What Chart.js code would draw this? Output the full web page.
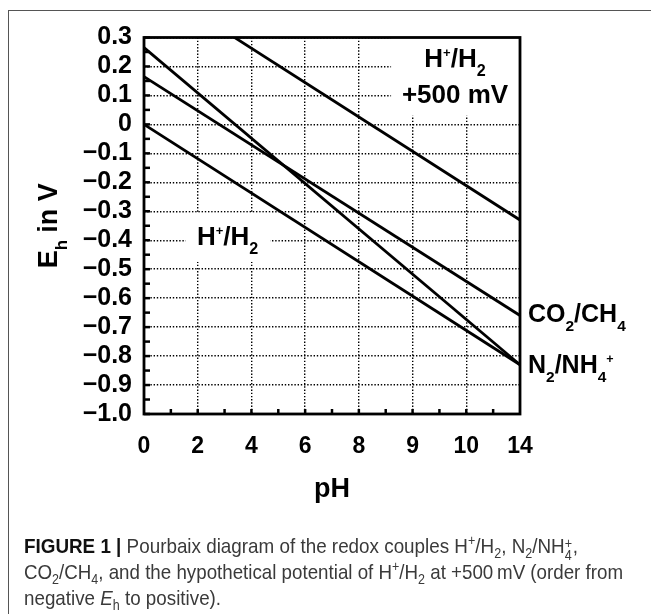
<!DOCTYPE html>
<html>
<head>
<meta charset="utf-8">
<script src="https://cdn.jsdelivr.net/npm/chart.js@4.4.1/dist/chart.umd.min.js"></script>
<style>
html,body{margin:0;padding:0;background:#fff;}
#wrap{position:relative;width:651px;height:614px;overflow:hidden;background:#fff;}
#frame{position:absolute;left:8px;top:10px;width:800px;height:800px;border-left:1px solid #555;border-top:1px solid #555;}
#c{position:absolute;left:0;top:0;}
.cap{position:absolute;left:24px;font-family:"Liberation Sans Narrow","Liberation Sans",Arial,sans-serif;font-size:21px;line-height:26px;color:#3a3a3a;white-space:nowrap;transform-origin:0 0;}
.cap b{color:#111;}
.cap sub,.cap sup{font-size:14px;line-height:0;}
.st{position:relative;display:inline-block;width:9px;height:1px;}
.st .a{position:absolute;left:0;top:-16px;font-size:14px;line-height:14px;}
.st .b{position:absolute;left:0;top:-4px;font-size:14px;line-height:14px;}
</style>
</head>
<body>
<div id="wrap">
  <div id="frame"></div>
  <canvas id="c" width="651" height="614"></canvas>
  <div class="cap" id="l1" style="top:533px"><b>FIGURE 1 |</b> Pourbaix diagram of the redox couples H<sup>+</sup>/H<sub>2</sub>, N<sub>2</sub>/NH<span class="st"><span class="a">+</span><span class="b">4</span></span>,</div>
  <div class="cap" id="l2" style="top:559px">CO<sub>2</sub>/CH<sub>4</sub>, and the hypothetical potential of H<sup>+</sup>/H<sub>2</sub> at +500&#8201;mV (order from</div>
  <div class="cap" id="l3" style="top:585px">negative <i>E</i><sub>h</sub> to positive).</div>
</div>
<script>
// ---- data ----
const pH = [0, 14];
const ehH2 = [0.0, -0.83];        // H+/H2
const ehN2 = [0.265, -0.83];      // N2/NH4+
const ehCO2 = [0.165, -0.66];     // CO2/CH4
const ehH2p500 = [0.5, -0.33];    // H+/H2 +500 mV
const xTickLabels = ['0', '2', '4', '6', '8', '9', '10', '14'];
const yTickLabels = ['0.3', '0.2', '0.1', '0', '\u22120.1', '\u22120.2', '\u22120.3', '\u22120.4', '\u22120.5', '\u22120.6', '\u22120.7', '\u22120.8', '\u22120.9', '\u22121.0'];

const FONT = '"Liberation Sans", Arial, sans-serif';

function pts(ys) { return pH.map((x, i) => ({ x: x, y: ys[i] })); }

function rich(ctx, parts, x, y, size, align) {
  const f = s => 'bold ' + s + 'px ' + FONT;
  const ws = parts.map(p => {
    const s = p[1] === 1 ? size * 0.62 : p[1] === 2 ? size * 0.5 : size;
    ctx.font = f(s);
    return ctx.measureText(p[0]).width;
  });
  const total = ws.reduce((a, b) => a + b, 0);
  let cx = align === 'center' ? x - total / 2 : x;
  ctx.textAlign = 'left';
  ctx.textBaseline = 'alphabetic';
  parts.forEach((p, i) => {
    const s = p[1] === 1 ? size * 0.62 : p[1] === 2 ? size * 0.5 : size;
    const dy = p[1] === 1 ? size * 0.36 : p[1] === 2 ? -size * 0.38 : 0;
    ctx.font = f(s);
    ctx.fillText(p[0], cx, y + dy);
    cx += ws[i];
  });
}

const deco = {
  id: 'deco',
  beforeDatasetsDraw(chart) {
    const { ctx, chartArea: a, scales: { x, y } } = chart;
    ctx.save();
    ctx.fillStyle = '#fff';
    // white boxes behind in-plot labels
    const bx = x.getPixelForValue(9.2), by = y.getPixelForValue(0.03);
    ctx.fillRect(bx, a.top, a.right - bx, by - a.top);
    const mx0 = x.getPixelForValue(1.55), mx1 = x.getPixelForValue(4.7);
    const my0 = y.getPixelForValue(-0.305), my1 = y.getPixelForValue(-0.475);
    ctx.fillRect(mx0, my0, mx1 - mx0, my1 - my0);
    ctx.fillStyle = '#000';
    const cxr = x.getPixelForValue(11.58);
    rich(ctx, [['H', 0], ['+', 2], ['/H', 0], ['2', 1]], cxr, y.getPixelForValue(0.198), 26, 'center');
    rich(ctx, [['+500 mV', 0]], cxr, y.getPixelForValue(0.074), 26, 'center');
    rich(ctx, [['H', 0], ['+', 2], ['/H', 0], ['2', 1]], x.getPixelForValue(1.97), y.getPixelForValue(-0.4165), 26, 'left');
    ctx.restore();
  },
  afterDatasetsDraw(chart) {
    const { ctx, chartArea: a, scales: { x, y } } = chart;
    ctx.save();
    ctx.strokeStyle = '#000';
    ctx.lineWidth = 2.5;
    for (let k = 0; k <= 26; k++) {
      const py = y.getPixelForValue(-1.0 + k * 0.05);
      ctx.beginPath(); ctx.moveTo(a.left, py); ctx.lineTo(a.left + 6, py); ctx.stroke();
    }
    for (let v = 1; v < 14; v++) {
      const px = x.getPixelForValue(v);
      ctx.beginPath(); ctx.moveTo(px, a.bottom); ctx.lineTo(px, a.bottom - 5); ctx.stroke();
    }
    ctx.lineWidth = 2.8;
    ctx.strokeRect(a.left, a.top, a.right - a.left, a.bottom - a.top);
    ctx.fillStyle = '#000';
    // right-side labels
    rich(ctx, [['CO', 0], ['2', 1], ['/CH', 0], ['4', 1]], a.right + 8, y.getPixelForValue(-0.682), 25, 'left');
    rich(ctx, [['N', 0], ['2', 1], ['/NH', 0], ['4', 1], ['+', 2]], a.right + 8, y.getPixelForValue(-0.858), 25, 'left');
    // axis titles
    rich(ctx, [['pH', 0]], (a.left + a.right) / 2, 497, 27, 'center');
    ctx.translate(57, (a.top + a.bottom) / 2);
    ctx.rotate(-Math.PI / 2);
    rich(ctx, [['E', 0], ['h', 1], [' in V', 0]], 0, 0, 27, 'center');
    ctx.restore();
  }
};

const line = (data) => ({
  data: data, borderColor: '#000', borderWidth: 2.8, pointRadius: 0, fill: false, tension: 0
});

new Chart(document.getElementById('c'), {
  type: 'line',
  data: {
    datasets: [line(pts(ehH2)), line(pts(ehN2)), line(pts(ehCO2)), line(pts(ehH2p500))]
  },
  options: {
    responsive: false,
    animation: false,
    layout: { padding: { left: 0, top: 37.5, right: 131, bottom: 0 } },
    plugins: { legend: { display: false }, tooltip: { enabled: false } },
    scales: {
      x: {
        type: 'linear', min: 0, max: 14,
        afterFit: s => { s.height = 200; },
        afterBuildTicks: s => { s.ticks = xTickLabels.map((t, i) => ({ value: i * 2 })); },
        ticks: {
          autoSkip: false, maxRotation: 0, padding: 19, color: '#000',
          font: { family: FONT, size: 23, weight: 'bold' },
          callback: (v, i) => xTickLabels[i]
        },
        grid: { drawTicks: false, color: '#000', lineWidth: 1.4 },
        border: { display: false, dash: [1.4, 1.8] }
      },
      y: {
        type: 'linear', min: -1.0, max: 0.3,
        afterFit: s => { s.width = 144; },
        afterBuildTicks: s => { s.ticks = yTickLabels.map((t, i) => ({ value: 0.3 - i * 0.1 })); },
        ticks: {
          autoSkip: false, padding: 12, color: '#000',
          font: { family: FONT, size: 25, weight: 'bold' },
          callback: (v, i) => yTickLabels[i]
        },
        grid: { drawTicks: false, color: '#000', lineWidth: 1.4 },
        border: { display: false, dash: [1.4, 1.8] }
      }
    }
  },
  plugins: [deco]
});

// fit caption line widths to the reference's condensed typeface
function fitCaption() {
  const t = { l1: 554, l2: 599 };
  let sc = [];
  ['l1', 'l2'].forEach(id => {
    const el = document.getElementById(id);
    const w = el.getBoundingClientRect().width;
    const s = t[id] / w;
    sc.push(s);
    el.style.transform = 'scaleX(' + s + ')';
  });
  const el3 = document.getElementById('l3');
  el3.style.transform = 'scaleX(' + ((sc[0] + sc[1]) / 2) + ')';
}
fitCaption();
</script>
</body>
</html>
